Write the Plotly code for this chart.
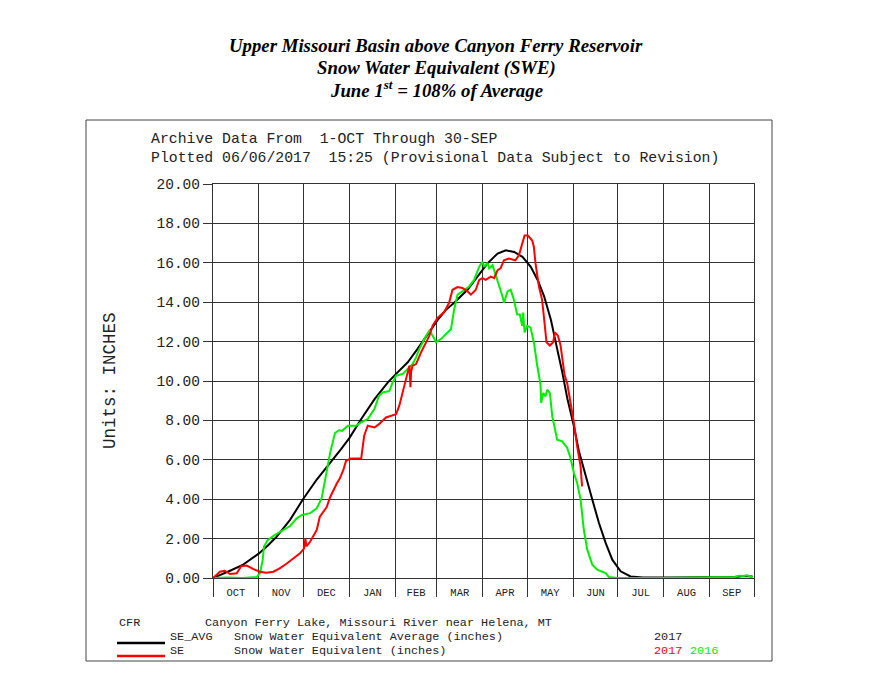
import plotly.graph_objects as go

# ---------------- data (day of water year, Oct 1 = 0) ----------------
month_names = ["OCT", "NOV", "DEC", "JAN", "FEB", "MAR", "APR", "MAY", "JUN", "JUL", "AUG", "SEP"]
month_starts = [0, 31, 61, 92, 123, 151, 182, 212, 243, 273, 304, 335, 365]

avg_days = [0, 5, 11.5, 20, 31, 37, 43, 52, 60.5, 70, 81, 86.4, 92, 100, 109, 118, 123.5,
            131.4, 138, 145, 151.6, 157, 162.7, 171.7, 178.4, 185.2, 192, 197.6, 203.2,
            208.8, 214.4, 219, 223.4, 228, 232.2, 235.6, 239, 243.5, 246.9, 251.4, 255.9,
            260.4, 264.9, 269.4, 275, 281.7, 290, 310, 330, 345, 352, 358, 364]
avg_vals = [0.0, 0.15, 0.37, 0.66, 1.25, 1.65, 2.1, 2.95, 3.97, 5.0, 6.0, 6.54, 7.1, 8.07,
            9.08, 9.93, 10.36, 10.95, 11.63, 12.39, 13.1, 13.6, 13.97, 14.63, 15.3, 15.97,
            16.47, 16.63, 16.55, 16.3, 15.8, 15.13, 14.3, 13.1, 11.63, 10.47, 9.13, 7.7,
            6.43, 5.16, 3.98, 2.79, 1.78, 0.93, 0.34, 0.08, 0.02, 0.02, 0.02, 0.03, 0.05,
            0.1, 0.08]

se2017_days = [0, 2, 4.7, 8, 11.5, 16, 19, 22.7, 27, 31.7, 36, 40.7, 45, 50, 54, 58.7,
               61.5, 62.3, 63, 65.5, 70, 72, 76.7, 79, 83.5, 85.7, 88, 89.8, 93, 100, 102,
               104.4, 108.9, 112, 116.7, 123.5, 125.7, 129, 131.4, 132.5, 133.2, 133.7,
               134.7, 137, 140.4, 143.7, 146, 148.2, 151.5, 156, 159.3, 161.6, 165, 168.3,
               171.7, 174, 177.3, 179.6, 181.8, 184, 187.4, 189.7, 192, 194, 196.3, 199.6,
               204, 206.4, 208.6, 210.2, 212.4, 215.4, 216.5, 217.6, 219.9, 222, 223.2, 225,
               227.3, 229.5, 230.7, 232.7, 234.5, 235.6, 237.2, 239, 240.8, 243.5, 245.7,
               248, 249]
se2017_vals = [0.0, 0.15, 0.32, 0.37, 0.2, 0.24, 0.6, 0.63, 0.46, 0.32, 0.27, 0.32, 0.49,
               0.75, 1.0, 1.25, 1.5, 2.0, 1.6, 1.84, 2.44, 3.1, 3.6, 4.1, 4.8, 5.07, 5.5,
               5.95, 6.07, 6.07, 7.22, 7.73, 7.64, 7.81, 8.15, 8.32, 8.75, 9.68, 10.44,
               10.78, 9.68, 10.5, 10.78, 10.86, 11.46, 11.97, 12.3, 12.81, 13.2, 13.5,
               13.97, 14.63, 14.77, 14.72, 14.55, 14.38, 14.63, 15.13, 15.22, 15.13, 15.3,
               15.22, 15.63, 15.72, 16.13, 16.22, 16.13, 16.38, 16.97, 17.38, 17.38, 17.13,
               16.8, 15.97, 14.8, 14.13, 13.3, 11.97, 11.8, 11.97, 12.47, 12.3, 11.8, 11.13,
               10.3, 9.88, 9.13, 7.87, 6.68, 5.67, 4.65]

se2016_days = [0, 10, 20, 29.5, 31.7, 33.5, 34.4, 37, 41.8, 46, 52, 56.5, 60, 65.5, 70,
               73.3, 75.6, 77, 79, 82.3, 85, 87, 91, 96.5, 99.9, 104.4, 108.9, 112, 114.5,
               119, 121.2, 123.5, 128, 132.5, 134.7, 137, 139.2, 142.6, 146, 148.2, 150.5,
               153.9, 158.4, 160.6, 162.7, 165, 168.3, 172.8, 176.2, 179.6, 181.8, 183,
               185.2, 186.3, 188.6, 192, 195.3, 196.4, 198.7, 200.8, 203, 205.2, 207, 208.6,
               209.3, 210.2, 212, 214.2, 216.5, 218.7, 221, 221.4, 222.8, 224.4, 225.5,
               227.3, 228.9, 232.2, 235.6, 239, 241.2, 243.5, 245.7, 248, 250.2, 252.5,
               255.9, 259.2, 261.5, 264.9, 267.1, 272.7, 300, 320, 340, 352, 355, 358, 360,
               363, 364]
se2016_vals = [0.0, 0.02, 0.0, 0.05, 0.24, 0.9, 1.6, 1.93, 2.19, 2.36, 2.64, 3.03, 3.2,
               3.29, 3.54, 4.05, 4.98, 5.66, 6.34, 7.36, 7.5, 7.47, 7.73, 7.73, 7.9, 8.07,
               8.58, 9.25, 9.42, 9.5, 9.93, 10.27, 10.36, 10.7, 10.86, 11.2, 11.63, 12.13,
               12.56, 12.3, 11.97, 12.14, 12.47, 12.64, 13.63, 14.38, 14.55, 14.8, 15.13,
               15.8, 16.05, 15.8, 16.0, 15.72, 15.88, 15.13, 14.3, 13.97, 14.55, 14.63,
               14.13, 13.38, 13.38, 12.8, 13.47, 12.47, 12.8, 12.72, 11.97, 10.8, 9.8, 8.88,
               9.39, 9.22, 9.56, 9.39, 8.2, 7.02, 6.94, 6.6, 6.09, 5.33, 4.82, 3.98, 2.45,
               1.44, 0.68, 0.42, 0.34, 0.25, 0.05, 0.0, 0.0, 0.02, 0.03, 0.05, 0.12, 0.1,
               0.14, 0.05, 0.05]

# ---------------- figure ----------------
MONO = "Liberation Mono"
SERIF = "Liberation Serif"
GRID = "#333333"
GREEN = "#00ee00"

fig = go.Figure()
fig.add_trace(go.Scatter(x=avg_days, y=avg_vals, mode="lines",
                         line=dict(color="black", width=2), name="SE_AVG"))
fig.add_trace(go.Scatter(x=se2016_days, y=se2016_vals, mode="lines",
                         line=dict(color=GREEN, width=2), name="SE 2016"))
fig.add_trace(go.Scatter(x=se2017_days, y=se2017_vals, mode="lines",
                         line=dict(color="red", width=2), name="SE 2017"))

mid_months = [(month_starts[i] + month_starts[i + 1]) / 2 for i in range(12)]

# page body has an 8px margin, so the figure is laid out 8px smaller/shifted
OFF = 8
L, R, T, B = 213, 754, 184, 578
W, H = 888 - OFF, 684 - OFF


def px(x):
    return (x - L) / (R - L)


def py(y):
    return (B - y) / (B - T)


fig.update_layout(
    width=W, height=H,
    margin=dict(l=L - OFF, r=W - (R - OFF), t=T - OFF, b=H - (B - OFF), pad=0),
    paper_bgcolor="white", plot_bgcolor="white",
    showlegend=False,
    xaxis=dict(range=[0, 365], tickmode="array", tickvals=mid_months, ticktext=month_names,
               ticks="outside", ticklen=4, tickcolor="rgba(0,0,0,0)", showgrid=False,
               zeroline=False,
               tickfont=dict(family=MONO, size=10.5, color="#222"),
               showline=True, mirror=True, linecolor=GRID, linewidth=1.2,
               minor=dict(tickmode="array", tickvals=month_starts, ticks="outside",
                          ticklen=18, tickwidth=1.2, tickcolor=GRID,
                          showgrid=True, gridcolor=GRID, gridwidth=1.2)),
    yaxis=dict(range=[0, 20], tickmode="linear", tick0=0, dtick=2, tickformat=".2f",
               ticks="outside", ticklen=9, tickwidth=1.2, tickcolor=GRID,
               showgrid=True, gridcolor=GRID, gridwidth=1.2, zeroline=False,
               tickfont=dict(family=MONO, size=14.5, color="#222"),
               showline=True, mirror=True, linecolor=GRID, linewidth=1.2),
)

ann = []


def text(x, y, s, size, color="#222", family=MONO, anchor="left", angle=0):
    ann.append(dict(x=px(x), y=py(y), xref="paper", yref="paper", text=s, showarrow=False,
                    xanchor=anchor, yanchor="middle", textangle=angle,
                    font=dict(family=family, size=size, color=color)))


# Title
text(436, 46, "<b><i>Upper Missouri Basin above Canyon Ferry Reservoir</i></b>", 18.8,
     "black", SERIF, "center")
text(436, 68, "<b><i>Snow Water Equivalent (SWE)</i></b>", 18.8, "black", SERIF, "center")
text(436, 89, "<b><i>June 1<sup>st</sup> = 108% of Average</i></b>", 18.8, "black", SERIF, "center")

# Header
text(149, 139, "Archive Data From\u00a0\u00a01-OCT Through 30-SEP", 14.8)
text(149, 158, "Plotted 06/06/2017\u00a0\u00a015:25 (Provisional Data Subject to Revision)", 14.8)

# Y axis title
text(110, 381, "Units: INCHES", 17.5, anchor="center", angle=-90)

# Bottom legend block
text(117, 623, "CFR", 11.8)
text(203, 623, "Canyon Ferry Lake, Missouri River near Helena, MT", 11.8)
text(168, 637, "SE_AVG", 11.8)
text(232, 637, "Snow Water Equivalent Average (inches)", 11.8)
text(652, 637, "2017", 11.8)
text(168, 651, "SE", 11.8)
text(232, 651, "Snow Water Equivalent (inches)", 11.8)
text(652, 651, "2017", 11.8, "red")
text(688, 651, "2016", 11.8, GREEN)

fig.update_layout(annotations=ann)

shapes = [
    dict(type="rect", xref="paper", yref="paper", x0=px(86), x1=px(772), y0=py(661), y1=py(120),
         line=dict(color="#444", width=1)),
    dict(type="line", xref="paper", yref="paper", x0=px(117), x1=px(165), y0=py(643), y1=py(643),
         line=dict(color="black", width=2.5)),
    dict(type="line", xref="paper", yref="paper", x0=px(117), x1=px(165), y0=py(656), y1=py(656),
         line=dict(color="red", width=2.5)),
]
fig.update_layout(shapes=shapes)

fig.write_html("out.html")
